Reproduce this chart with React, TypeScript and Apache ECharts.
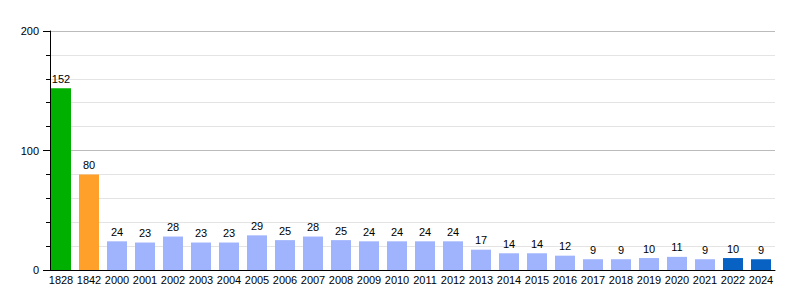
import React, { useEffect, useRef } from "react";
import * as echarts from "echarts";

const categories = ["1828", "1842", "2000", "2001", "2002", "2003", "2004", "2005", "2006", "2007", "2008", "2009", "2010", "2011", "2012", "2013", "2014", "2015", "2016", "2017", "2018", "2019", "2020", "2021", "2022", "2024"];
const values = [152, 80, 24, 23, 28, 23, 23, 29, 25, 28, 25, 24, 24, 24, 24, 17, 14, 14, 12, 9, 9, 10, 11, 9, 10, 9];
const colorGroups = ["first", "second", ...Array(22).fill("mid"), "recent", "recent"];
const palette: Record<string, string> = { first: "#00b000", second: "#ffa02a", mid: "#9fb4fc", recent: "#0862c4" };

export default function App() {
  const ref = useRef<HTMLDivElement>(null);
  useEffect(() => {
    document.body.style.margin = "0";
    const chart = echarts.init(ref.current!, null, { renderer: "svg" });
    const font = "'Liberation Sans', Arial, sans-serif";
    chart.setOption({
      animation: false,
      grid: { left: 47, right: 25, top: 31, bottom: 30 },
      xAxis: {
        type: "category",
        data: categories,
        axisLine: { lineStyle: { color: "#000", width: 1 } },
        axisTick: { show: false },
        axisLabel: { color: "#000", fontSize: 11, fontFamily: font, margin: 4, interval: 0 },
      },
      yAxis: {
        type: "value",
        min: 0,
        max: 200,
        interval: 100,
        offset: -3,
        axisLine: { show: true, lineStyle: { color: "#000", width: 1 } },
        axisTick: { show: true, length: 7, lineStyle: { color: "#000" } },
        minorTick: { show: true, splitNumber: 5, length: 4, lineStyle: { color: "#000" } },
        splitLine: { lineStyle: { color: "#bbbbbb" } },
        minorSplitLine: { show: true, lineStyle: { color: "#e4e4e4" } },
        axisLabel: { color: "#000", fontSize: 11, fontFamily: font, margin: 11 },
      },
      series: [
        {
          type: "bar",
          data: values.map((v, i) => ({ value: v, itemStyle: { color: palette[colorGroups[i]] } })),
          barWidth: 20,
          label: { show: true, position: "top", distance: 4, color: "#000", textBorderWidth: 0, fontSize: 11, fontFamily: font },
        },
      ],
    });
    return () => chart.dispose();
  }, []);
  return <div ref={ref} style={{ width: 800, height: 300 }} />;
}
